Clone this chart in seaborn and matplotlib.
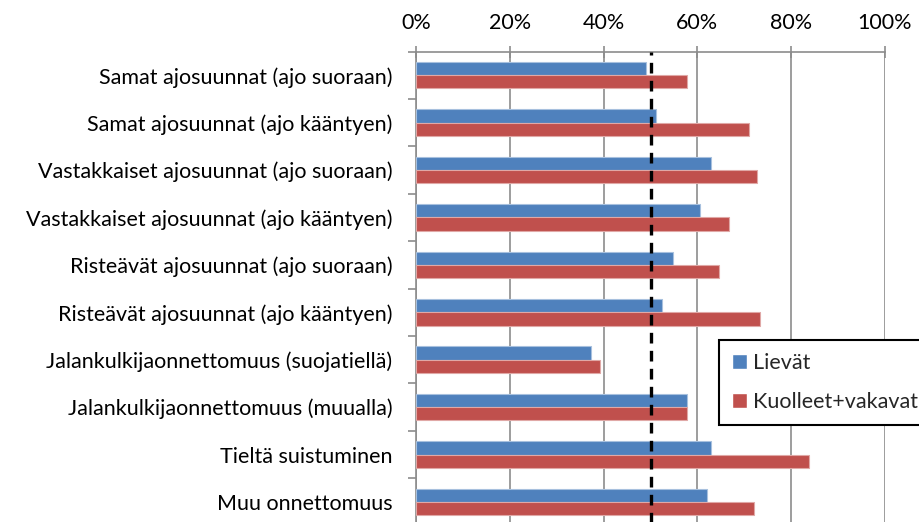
import matplotlib
matplotlib.use("Agg")
import matplotlib.pyplot as plt
from matplotlib.ticker import PercentFormatter, MultipleLocator
import seaborn as sns
import pandas as pd

sns.set_theme(style="white")
plt.rcParams['font.family'] = ['Lato', 'DejaVu Sans']

categories = [
    "Samat ajosuunnat (ajo suoraan)",
    "Samat ajosuunnat (ajo kääntyen)",
    "Vastakkaiset ajosuunnat (ajo suoraan)",
    "Vastakkaiset ajosuunnat (ajo kääntyen)",
    "Risteävät ajosuunnat (ajo suoraan)",
    "Risteävät ajosuunnat (ajo kääntyen)",
    "Jalankulkijaonnettomuus (suojatiellä)",
    "Jalankulkijaonnettomuus (muualla)",
    "Tieltä suistuminen",
    "Muu onnettomuus",
]
lievat = [49.1, 51.2, 62.8, 60.6, 54.8, 52.5, 37.4, 57.7, 62.9, 62.0]
kuolleet = [57.7, 71.0, 72.7, 66.7, 64.5, 73.3, 39.2, 57.7, 83.7, 72.0]
series = ["Lievät", "Kuolleet+vakavat"]
threshold = 50

df = pd.DataFrame({
    "kategoria": categories * 2,
    "sarja": [series[0]] * len(categories) + [series[1]] * len(categories),
    "osuus": lievat + kuolleet,
})

fs = 15.5

fig = plt.figure(figsize=(9.19, 5.22), dpi=100)
ax = fig.add_axes([416 / 919, -0.007, (885 - 416) / 919, (522 - 51.5) / 522 + 0.007])

sns.barplot(data=df, y="kategoria", x="osuus", hue="sarja", orient="h",
            palette=["#4F81BD", "#C0504D"], saturation=1, width=0.56, ax=ax, zorder=3)
for cont, ec in zip(ax.containers, ["#a7c0de", "#e0a8a6"]):
    for p in cont:
        p.set_edgecolor(ec)
        p.set_linewidth(0.8)

ax.axvline(threshold, color="black", lw=2.4, ls=(0, (3.2, 2.2)), zorder=4)

ax.set_xlim(0, 100)
ax.set_ylim(len(categories) - 0.5, -0.5)
ax.xaxis.set_major_locator(MultipleLocator(20))
ax.xaxis.set_major_formatter(PercentFormatter(decimals=0))
ax.xaxis.tick_top()
ax.grid(axis="x", color="#8c8c8c", lw=1.2, zorder=0)
ax.set_xlabel("")
ax.set_ylabel("")

for s in ["right", "bottom"]:
    ax.spines[s].set_visible(False)
for s in ["top", "left"]:
    ax.spines[s].set_color("#8c8c8c")
    ax.spines[s].set_linewidth(1.2)

ax.tick_params(axis="x", which="major", direction="inout", length=9, width=1.2,
               color="#8c8c8c", labelsize=fs, pad=9, labelcolor="black")
ax.set_yticks([i + 0.5 for i in range(-1, len(categories))], minor=True)
ax.tick_params(axis="y", which="minor", direction="out", length=6, width=1.2,
               color="#8c8c8c", left=True)
ax.tick_params(axis="y", which="major", length=0, labelsize=fs, pad=17,
               labelcolor="black")

handles, labels = ax.get_legend_handles_labels()
ax.legend(handles, labels, loc="upper left",
          bbox_to_anchor=(719 / 919, 1 - 340 / 522), bbox_transform=fig.transFigure,
          borderaxespad=0, fontsize=fs, frameon=True, fancybox=False, edgecolor="black",
          framealpha=1, handlelength=0.7, handleheight=0.7, labelspacing=0.9,
          handletextpad=0.3, borderpad=0.6)
ax.get_legend().get_frame().set_linewidth(1.5)

fig.savefig("out.png", dpi=100)
